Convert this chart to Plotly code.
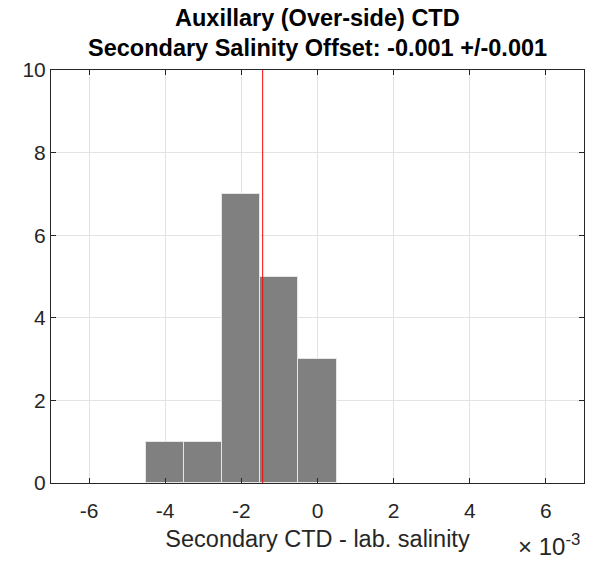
import plotly.graph_objects as go

# histogram of secondary CTD - lab salinity (units of 1e-3)
bin_centers = [-4, -3, -2, -1, 0]
bin_counts = [1, 1, 7, 5, 3]
bin_width = 1
offset_mean = -1.44

x_ticks = [-6, -4, -2, 0, 2, 4, 6]
y_ticks = [0, 2, 4, 6, 8, 10]

title_lines = ['Auxillary (Over-side) CTD', 'Secondary Salinity Offset: -0.001 +/-0.001']

axis_color = '#262626'
font = 'Liberation Sans, Arial, sans-serif'

fig = go.Figure(go.Bar(x=bin_centers, y=bin_counts, width=bin_width,
                       marker=dict(color='#808080', line=dict(color='#e6e6e6', width=1))))

fig.add_shape(type='line', x0=offset_mean, x1=offset_mean, y0=0, y1=1,
              xref='x', yref='paper', line=dict(color='#ff0000', width=1))

axis_style = dict(showline=True, mirror='ticks', linecolor=axis_color, linewidth=1,
                  ticks='inside', ticklen=5, tickcolor=axis_color,
                  showgrid=True, gridcolor='#e3e3e3', gridwidth=1, zeroline=False,
                  tickfont=dict(size=21, color=axis_color, family=font))

fig.update_layout(
    width=598, height=561,
    margin=dict(l=51, r=14, t=70, b=78),
    plot_bgcolor='white', paper_bgcolor='white',
    showlegend=False, bargap=0,
    xaxis=dict(range=[-7, 7], tickvals=x_ticks, ticktext=[str(v) for v in x_ticks],
               ticklabelstandoff=9,
               title=dict(text='Secondary CTD - lab. salinity', standoff=9,
                          font=dict(size=23.5, color=axis_color, family=font)),
               **axis_style),
    yaxis=dict(range=[0, 10], tickvals=y_ticks, ticktext=[str(v) for v in y_ticks], **axis_style),
)

# two-line bold title
for line, shift in zip(title_lines, [52, 22]):
    fig.add_annotation(text='<b>%s</b>' % line, xref='paper', yref='paper', x=0.5, y=1,
                       xanchor='center', yanchor='middle', yshift=shift, showarrow=False,
                       font=dict(size=23.5, color='black', family=font))

fig.add_annotation(text='\u00d7 10<sup>-3</sup>', xref='paper', yref='paper', x=0.997, y=0,
                   xanchor='right', yanchor='middle', yshift=-62, showarrow=False,
                   font=dict(size=24, color=axis_color, family=font))

fig.write_html("out.html", config={'displayModeBar': False},
               post_script="document.body.style.margin='0';")
